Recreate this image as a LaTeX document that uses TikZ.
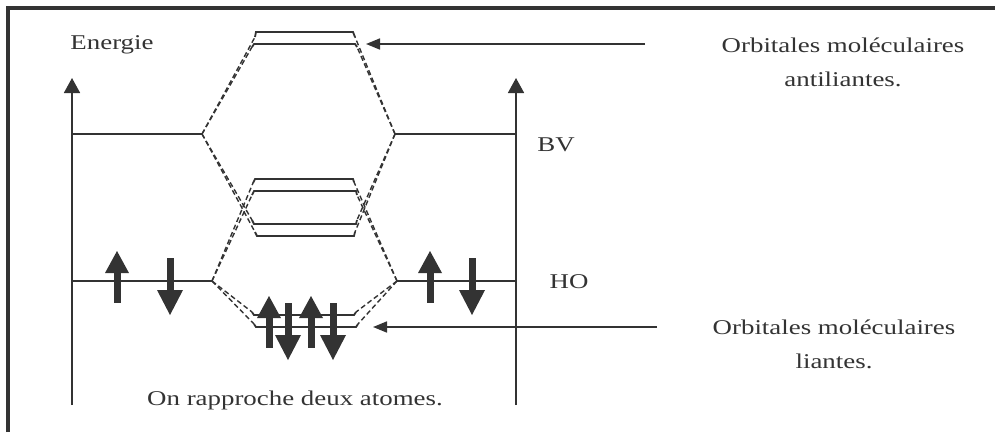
\documentclass[tikz,border=0pt]{standalone}
\usepackage{fontspec}
\setmainfont{Liberation Serif}[FakeStretch=1.28]
\usetikzlibrary{arrows.meta}
\definecolor{ink}{HTML}{333333}
\begin{document}
\begin{tikzpicture}[x=1pt,y=-1pt,
  lvl/.style={draw=ink,line width=1.8pt},
  dsh/.style={draw=ink,line width=1.4pt,dash pattern=on 5pt off 3pt},
  axis/.style={draw=ink,line width=1.7pt,-{Triangle[length=15pt,width=16pt]}},
  pointer/.style={draw=ink,line width=1.7pt,-{Triangle[length=14pt,width=11pt]}},
  lbl/.style={text=ink,font=\fontsize{21}{34}\selectfont,inner sep=0pt,align=center},
  spinup/.pic={\fill[ink] (-3.5,0) rectangle (3.5,-30); \fill[ink] (-12,-30) -- (12,-30) -- (0,-52) -- cycle;},
  spindown/.pic={\fill[ink] (-3.5,0) rectangle (3.5,32); \fill[ink] (-13,32) -- (13,32) -- (0,57) -- cycle;}
]
\useasboundingbox (0,0) rectangle (995,432);
% frame (top and left edges)
\draw[ink,line width=4pt] (8,432) -- (8,8) -- (995,8);

% axes
\coordinate (axL0) at (72,405); \coordinate (axL1) at (72,78);
\coordinate (axR0) at (516,405); \coordinate (axR1) at (516,78);
\draw[axis] (axL0) -- (axL1);
\draw[axis] (axR0) -- (axR1);

% atomic levels
\coordinate (LBa) at (72,134); \coordinate (LB) at (202,134);
\coordinate (RB) at (395,134); \coordinate (RBa) at (516,134);
\coordinate (LHa) at (72,281); \coordinate (LH) at (212,281);
\coordinate (RH) at (397,281); \coordinate (RHa) at (516,281);
\draw[lvl] (LBa) -- (LB);
\draw[lvl] (RB) -- (RBa);
\draw[lvl] (LHa) -- (LH);
\draw[lvl] (RH) -- (RHa);

% antibonding levels
\coordinate (A1L) at (255,37); \coordinate (A1R) at (355,37);
\coordinate (A2L) at (252,47); \coordinate (A2R) at (357,47);
\draw[lvl] (A1L) -- (256,32) -- (353,32) -- (A1R);
\draw[lvl] (A2L) -- (254,44) -- (355,44) -- (A2R);

% middle levels
\coordinate (M1L) at (253,183); \coordinate (M1R) at (354,182);
\coordinate (M2L) at (252,195); \coordinate (M2R) at (357,195);
\coordinate (M3L) at (252,220); \coordinate (M3R) at (357,220);
\coordinate (M4L) at (255,232); \coordinate (M4R) at (355,232);
\draw[lvl] (M1L) -- (255,179) -- (353,179) -- (M1R);
\draw[lvl] (M2L) -- (254,191) -- (356,191) -- (M2R);
\draw[lvl] (M3L) -- (254,224) -- (356,224) -- (M3R);
\draw[lvl] (M4L) -- (257,236) -- (354,236) -- (M4R);

% bonding levels
\coordinate (B1L) at (252,312); \coordinate (B1R) at (356,312);
\coordinate (B2L) at (254,324); \coordinate (B2R) at (358,324);
\draw[lvl] (B1L) -- (254,315) -- (354,315) -- (B1R);
\draw[lvl] (B2L) -- (256,327) -- (356,327) -- (B2R);

% dashed correlation lines
\draw[dsh] (LB) -- (A1L); \draw[dsh] (LB) -- (A2L);
\draw[dsh] (RB) -- (A1R); \draw[dsh] (RB) -- (A2R);
\draw[dsh] (LB) -- (M3L); \draw[dsh] (LB) -- (M4L);
\draw[dsh] (RB) -- (M3R); \draw[dsh] (RB) -- (M4R);
\draw[dsh] (LH) -- (M1L); \draw[dsh] (LH) -- (M2L);
\draw[dsh] (RH) -- (M1R); \draw[dsh] (RH) -- (M2R);
\draw[dsh] (LH) -- (B1L); \draw[dsh] (LH) -- (B2L);
\draw[dsh] (RH) -- (B1R); \draw[dsh] (RH) -- (B2R);

% electrons
\pic at (117,303) {spinup};
\pic at (170,258) {spindown};
\pic at (430,303) {spinup};
\pic at (472,258) {spindown};
\pic at (269,348) {spinup};
\pic at (288,303) {spindown};
\pic at (311,348) {spinup};
\pic at (333,303) {spindown};

% labels
\node[lbl] (energie) at (112,45) {Energie};
\node[lbl] (bv) at (556,145) {BV};
\node[lbl] (ho) at (569,282) {HO};
\node[lbl] (anti) at (843,62) {Orbitales moléculaires\\antiliantes.};
\node[lbl] (liant) at (834,344) {Orbitales moléculaires\\liantes.};
\node[lbl] (rapp) at (295,400) {On rapproche deux atomes.};

% pointers
\coordinate (pA) at (645,44); \coordinate (pAt) at (366,44);
\coordinate (pB) at (657,327); \coordinate (pBt) at (373,327);
\draw[pointer] (pA) -- (pAt);
\draw[pointer] (pB) -- (pBt);
\end{tikzpicture}
\end{document}
